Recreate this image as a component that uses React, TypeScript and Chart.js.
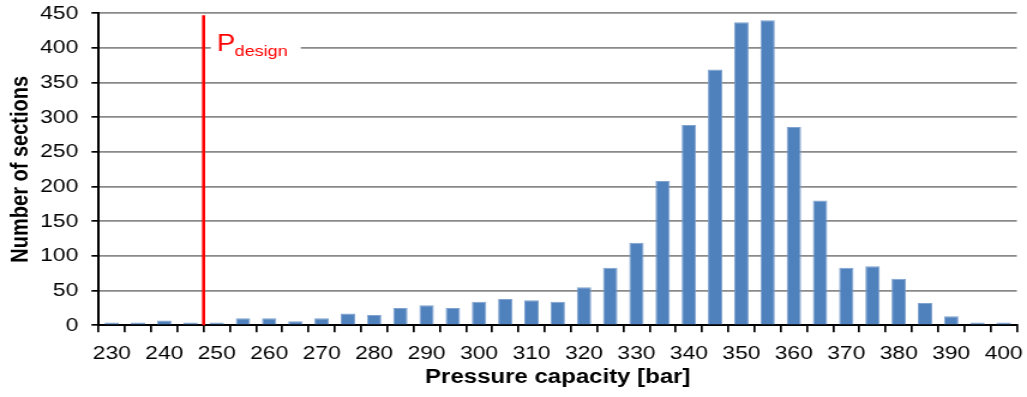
import React, { useEffect, useRef } from "react";
import { Chart, registerables } from "chart.js";

Chart.register(...registerables);

// Pressure-capacity bins [bar] and number of pipe sections in each bin
const pressureBins = [
  "230", "235", "240", "245", "250", "255", "260", "265", "270", "275",
  "280", "285", "290", "295", "300", "305", "310", "315", "320", "325",
  "330", "335", "340", "345", "350", "355", "360", "365", "370", "375",
  "380", "385", "390", "395", "400",
];
const sectionCounts = [
  4, 4, 7, 4, 4, 10, 10, 6, 10, 17,
  15, 25, 29, 25, 34, 38, 36, 34, 55, 83,
  119, 208, 289, 369, 437, 440, 286, 180, 83, 85,
  67, 32, 13, 4, 4,
];
const yTicks = [0, 50, 100, 150, 200, 250, 300, 350, 400, 450];

// Design pressure marker (boundary between the 245 and 250 bins)
const designPressure = 247.5;
const designMain = "P";
const designSub = "design";
const designLabelLevel = 400;

const xTitle = "Pressure capacity [bar]";
const yTitle = "Number of sections";

const VIEW_W = 1027;
const VIEW_H = 397;
const H_STRETCH = 1.2;
const CANVAS_W = Math.round(VIEW_W / H_STRETCH);

const FONT = '"Liberation Sans", Arial, Helvetica, sans-serif';

const designLinePlugin = {
  id: "designLine",
  afterDatasetsDraw(chart: any) {
    const { ctx, chartArea, scales } = chart;
    const x = scales.x;
    const y = scales.y;
    const first = Number(pressureBins[0]);
    const step = Number(pressureBins[1]) - first;
    const pos = (designPressure - first) / step;
    const i0 = Math.floor(pos);
    const frac = pos - i0;
    const p0 = x.getPixelForValue(i0);
    const p1 = x.getPixelForValue(i0 + 1);
    const px = p0 + frac * (p1 - p0);

    ctx.save();
    // vertical design line
    ctx.strokeStyle = "#FF0000";
    ctx.lineWidth = 2.6;
    ctx.beginPath();
    ctx.moveTo(px, chartArea.top + 2);
    ctx.lineTo(px, chartArea.bottom);
    ctx.stroke();

    // label with a white backing that breaks the gridline
    const gy = y.getPixelForValue(designLabelLevel);
    ctx.fillStyle = "#FFFFFF";
    ctx.fillRect(px + 6, gy - 12, 75, 24);

    ctx.fillStyle = "#FF0000";
    ctx.textBaseline = "alphabetic";
    ctx.textAlign = "left";
    ctx.font = `23px ${FONT}`;
    const tx = px + 11;
    ctx.fillText(designMain, tx, gy + 2.7);
    const wP = ctx.measureText(designMain).width;
    ctx.font = `15px ${FONT}`;
    ctx.fillText(designSub, tx + wP - 0.5, gy + 7.7);
    ctx.restore();
  },
};

export default function App() {
  const canvasRef = useRef<HTMLCanvasElement | null>(null);

  useEffect(() => {
    const canvas = canvasRef.current;
    if (!canvas) return;
    const chart = new Chart(canvas, {
      type: "bar",
      data: {
        labels: pressureBins,
        datasets: [
          {
            data: sectionCounts,
            backgroundColor: "#4F81BD",
            borderColor: "#7FA2CF",
            borderWidth: 1,
            barPercentage: 0.55,
            categoryPercentage: 1,
          },
        ],
      },
      options: {
        animation: false,
        responsive: false,
        devicePixelRatio: 1,
        layout: { padding: { top: 13.3, right: 8.5, bottom: 0, left: 0 } },
        plugins: {
          legend: { display: false },
          tooltip: { enabled: false },
        },
        scales: {
          x: {
            type: "category",
            offset: true,
            grid: {
              offset: true,
              drawOnChartArea: false,
              drawTicks: true,
              tickLength: 7,
              tickColor: "#000000",
              lineWidth: 1.7,
            },
            border: { color: "#000000", width: 2 },
            ticks: {
              autoSkip: false,
              maxRotation: 0,
              minRotation: 0,
              padding: 10,
              color: "#000000",
              font: { family: FONT, size: 19 },
              callback: (_v: any, i: number) =>
                Number(pressureBins[i]) % 10 === 0 ? pressureBins[i] : "",
            },
            title: {
              display: true,
              text: xTitle,
              color: "#000000",
              font: { family: FONT, size: 20, weight: "bold" },
              padding: { top: 0, bottom: 8 },
            },
            afterFit: (scale: any) => {
              scale.height = 71.7;
              scale.paddingLeft = 0;
              scale.paddingRight = 0;
            },
          },
          y: {
            min: 0,
            max: 450,
            afterBuildTicks: (scale: any) => {
              scale.ticks = yTicks.map((v) => ({ value: v }));
            },
            grid: {
              color: "#8A8A8A",
              lineWidth: 1.7,
              tickLength: 6,
              tickColor: "#000000",
            },
            border: { color: "#000000", width: 2 },
            ticks: {
              padding: 11,
              color: "#000000",
              font: { family: FONT, size: 19 },
            },
            title: {
              display: true,
              text: yTitle,
              color: "#000000",
              font: { family: FONT, size: 20, weight: "bold" },
              padding: { top: 5, bottom: 0 },
            },
            afterFit: (scale: any) => {
              scale.width = 82.25;
              scale.paddingTop = 0;
              scale.paddingBottom = 0;
            },
          },
        },
      },
      plugins: [designLinePlugin],
    });
    return () => chart.destroy();
  }, []);

  return (
    <div
      style={{
        position: "fixed",
        left: 0,
        top: 0,
        width: VIEW_W,
        height: VIEW_H,
        background: "#FFFFFF",
      }}
    >
      <canvas
        ref={canvasRef}
        width={CANVAS_W}
        height={VIEW_H}
        style={{ width: `${VIEW_W}px`, height: `${VIEW_H}px`, display: "block" }}
      />
    </div>
  );
}
